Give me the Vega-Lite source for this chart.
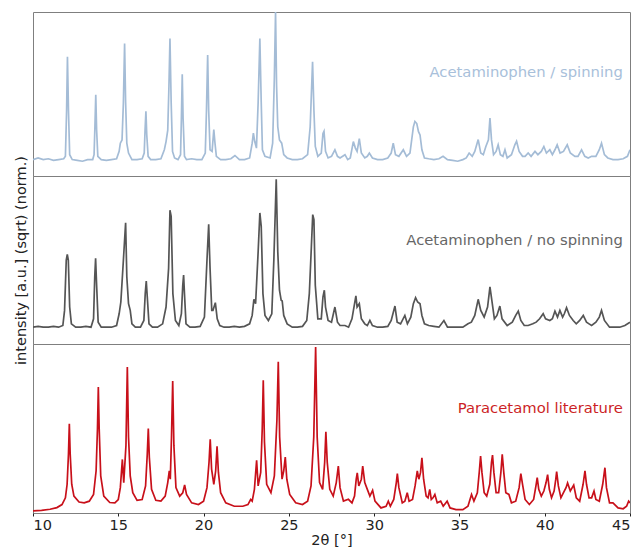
{
  "$schema": "https://vega.github.io/schema/vega-lite/v6.json",
  "padding": {"left": 12, "top": 11, "right": 7, "bottom": 0},
  "spacing": 0,
  "bounds": "flush",
  "config": {
    "font": "DejaVu Sans",
    "view": {"stroke": "#7f7f7f", "strokeWidth": 1}
  },
  "datasets": {
    "spin": [
      {"x":10.0,"y":0.10},{"x":10.3,"y":0.11},{"x":10.6,"y":0.10},{"x":10.9,"y":0.105},{"x":11.2,"y":0.095},{"x":11.5,"y":0.10},{"x":11.8,"y":0.105},{"x":11.9,"y":0.12},{"x":11.97,"y":0.40},{"x":12.02,"y":0.727},{"x":12.08,"y":0.40},{"x":12.15,"y":0.13},{"x":12.3,"y":0.10},{"x":12.6,"y":0.095},{"x":12.9,"y":0.09},{"x":13.2,"y":0.10},{"x":13.5,"y":0.10},{"x":13.58,"y":0.13},{"x":13.63,"y":0.30},{"x":13.68,"y":0.495},{"x":13.73,"y":0.28},{"x":13.8,"y":0.12},{"x":14.0,"y":0.10},{"x":14.3,"y":0.095},{"x":14.6,"y":0.10},{"x":14.9,"y":0.105},{"x":15.05,"y":0.15},{"x":15.12,"y":0.20},{"x":15.22,"y":0.22},{"x":15.3,"y":0.45},{"x":15.37,"y":0.808},{"x":15.43,"y":0.45},{"x":15.5,"y":0.20},{"x":15.6,"y":0.14},{"x":15.8,"y":0.10},{"x":16.1,"y":0.10},{"x":16.4,"y":0.105},{"x":16.52,"y":0.14},{"x":16.57,"y":0.28},{"x":16.62,"y":0.394},{"x":16.67,"y":0.25},{"x":16.75,"y":0.12},{"x":16.9,"y":0.10},{"x":17.2,"y":0.10},{"x":17.5,"y":0.105},{"x":17.7,"y":0.16},{"x":17.8,"y":0.21},{"x":17.9,"y":0.28},{"x":17.97,"y":0.55},{"x":18.03,"y":0.838},{"x":18.1,"y":0.45},{"x":18.18,"y":0.15},{"x":18.3,"y":0.11},{"x":18.5,"y":0.10},{"x":18.65,"y":0.13},{"x":18.7,"y":0.35},{"x":18.75,"y":0.62},{"x":18.8,"y":0.35},{"x":18.88,"y":0.12},{"x":19.0,"y":0.10},{"x":19.3,"y":0.105},{"x":19.6,"y":0.10},{"x":19.9,"y":0.10},{"x":20.1,"y":0.14},{"x":20.17,"y":0.40},{"x":20.24,"y":0.737},{"x":20.3,"y":0.40},{"x":20.38,"y":0.16},{"x":20.5,"y":0.15},{"x":20.6,"y":0.283},{"x":20.67,"y":0.20},{"x":20.75,"y":0.12},{"x":21.0,"y":0.10},{"x":21.3,"y":0.10},{"x":21.6,"y":0.105},{"x":21.84,"y":0.125},{"x":22.1,"y":0.10},{"x":22.4,"y":0.10},{"x":22.7,"y":0.11},{"x":22.85,"y":0.20},{"x":22.92,"y":0.262},{"x":23.0,"y":0.21},{"x":23.1,"y":0.17},{"x":23.2,"y":0.45},{"x":23.3,"y":0.838},{"x":23.38,"y":0.45},{"x":23.45,"y":0.16},{"x":23.6,"y":0.12},{"x":23.9,"y":0.11},{"x":24.05,"y":0.20},{"x":24.15,"y":0.60},{"x":24.22,"y":1.0},{"x":24.28,"y":0.55},{"x":24.35,"y":0.30},{"x":24.45,"y":0.22},{"x":24.58,"y":0.20},{"x":24.7,"y":0.13},{"x":24.9,"y":0.11},{"x":25.2,"y":0.10},{"x":25.5,"y":0.10},{"x":25.8,"y":0.105},{"x":26.1,"y":0.13},{"x":26.25,"y":0.30},{"x":26.39,"y":0.697},{"x":26.47,"y":0.40},{"x":26.55,"y":0.18},{"x":26.7,"y":0.12},{"x":26.9,"y":0.14},{"x":27.0,"y":0.26},{"x":27.06,"y":0.273},{"x":27.15,"y":0.15},{"x":27.3,"y":0.11},{"x":27.5,"y":0.12},{"x":27.7,"y":0.16},{"x":27.85,"y":0.12},{"x":28.0,"y":0.11},{"x":28.29,"y":0.13},{"x":28.45,"y":0.10},{"x":28.6,"y":0.11},{"x":28.78,"y":0.21},{"x":28.9,"y":0.17},{"x":29.0,"y":0.15},{"x":29.13,"y":0.228},{"x":29.25,"y":0.14},{"x":29.45,"y":0.11},{"x":29.6,"y":0.12},{"x":29.72,"y":0.14},{"x":29.9,"y":0.11},{"x":30.2,"y":0.10},{"x":30.5,"y":0.10},{"x":30.8,"y":0.11},{"x":31.0,"y":0.14},{"x":31.12,"y":0.20},{"x":31.25,"y":0.13},{"x":31.45,"y":0.12},{"x":31.71,"y":0.16},{"x":31.9,"y":0.12},{"x":32.1,"y":0.14},{"x":32.3,"y":0.30},{"x":32.39,"y":0.333},{"x":32.5,"y":0.32},{"x":32.6,"y":0.27},{"x":32.69,"y":0.25},{"x":32.8,"y":0.16},{"x":32.95,"y":0.11},{"x":33.2,"y":0.105},{"x":33.5,"y":0.10},{"x":33.8,"y":0.105},{"x":34.04,"y":0.12},{"x":34.3,"y":0.10},{"x":34.6,"y":0.095},{"x":34.9,"y":0.09},{"x":35.2,"y":0.10},{"x":35.4,"y":0.11},{"x":35.57,"y":0.14},{"x":35.75,"y":0.12},{"x":35.9,"y":0.15},{"x":36.1,"y":0.222},{"x":36.25,"y":0.14},{"x":36.4,"y":0.13},{"x":36.55,"y":0.18},{"x":36.7,"y":0.22},{"x":36.79,"y":0.353},{"x":36.88,"y":0.22},{"x":37.0,"y":0.13},{"x":37.15,"y":0.15},{"x":37.27,"y":0.19},{"x":37.4,"y":0.13},{"x":37.55,"y":0.12},{"x":37.67,"y":0.16},{"x":37.8,"y":0.11},{"x":38.05,"y":0.13},{"x":38.25,"y":0.19},{"x":38.35,"y":0.212},{"x":38.5,"y":0.15},{"x":38.7,"y":0.12},{"x":38.85,"y":0.12},{"x":39.03,"y":0.14},{"x":39.2,"y":0.12},{"x":39.43,"y":0.15},{"x":39.6,"y":0.13},{"x":39.8,"y":0.15},{"x":39.95,"y":0.18},{"x":40.1,"y":0.14},{"x":40.3,"y":0.16},{"x":40.45,"y":0.13},{"x":40.6,"y":0.16},{"x":40.73,"y":0.19},{"x":40.9,"y":0.14},{"x":41.1,"y":0.15},{"x":41.32,"y":0.19},{"x":41.5,"y":0.14},{"x":41.77,"y":0.12},{"x":41.95,"y":0.12},{"x":42.16,"y":0.16},{"x":42.35,"y":0.12},{"x":42.55,"y":0.11},{"x":42.75,"y":0.12},{"x":43.0,"y":0.12},{"x":43.2,"y":0.16},{"x":43.33,"y":0.20},{"x":43.5,"y":0.13},{"x":43.7,"y":0.11},{"x":44.0,"y":0.10},{"x":44.3,"y":0.10},{"x":44.6,"y":0.105},{"x":44.85,"y":0.12},{"x":45.0,"y":0.16}
    ],
    "nospin": [
      {"x":10.0,"y":0.10},{"x":10.3,"y":0.105},{"x":10.6,"y":0.10},{"x":10.9,"y":0.10},{"x":11.2,"y":0.105},{"x":11.5,"y":0.10},{"x":11.75,"y":0.11},{"x":11.85,"y":0.20},{"x":11.95,"y":0.50},{"x":12.01,"y":0.534},{"x":12.07,"y":0.50},{"x":12.15,"y":0.22},{"x":12.25,"y":0.12},{"x":12.5,"y":0.10},{"x":12.8,"y":0.10},{"x":13.1,"y":0.105},{"x":13.4,"y":0.10},{"x":13.55,"y":0.15},{"x":13.62,"y":0.40},{"x":13.67,"y":0.51},{"x":13.73,"y":0.35},{"x":13.82,"y":0.13},{"x":14.0,"y":0.10},{"x":14.3,"y":0.10},{"x":14.6,"y":0.10},{"x":14.9,"y":0.11},{"x":15.05,"y":0.18},{"x":15.15,"y":0.25},{"x":15.3,"y":0.50},{"x":15.43,"y":0.722},{"x":15.5,"y":0.40},{"x":15.6,"y":0.24},{"x":15.7,"y":0.20},{"x":15.8,"y":0.12},{"x":16.0,"y":0.10},{"x":16.3,"y":0.10},{"x":16.5,"y":0.14},{"x":16.58,"y":0.30},{"x":16.64,"y":0.375},{"x":16.7,"y":0.28},{"x":16.8,"y":0.12},{"x":17.0,"y":0.10},{"x":17.3,"y":0.10},{"x":17.6,"y":0.12},{"x":17.8,"y":0.22},{"x":17.95,"y":0.45},{"x":18.03,"y":0.796},{"x":18.1,"y":0.76},{"x":18.2,"y":0.30},{"x":18.35,"y":0.14},{"x":18.55,"y":0.11},{"x":18.7,"y":0.18},{"x":18.78,"y":0.35},{"x":18.83,"y":0.41},{"x":18.88,"y":0.30},{"x":18.97,"y":0.12},{"x":19.2,"y":0.10},{"x":19.5,"y":0.10},{"x":19.8,"y":0.105},{"x":20.05,"y":0.16},{"x":20.2,"y":0.50},{"x":20.3,"y":0.712},{"x":20.38,"y":0.45},{"x":20.48,"y":0.20},{"x":20.55,"y":0.20},{"x":20.69,"y":0.246},{"x":20.8,"y":0.15},{"x":20.95,"y":0.11},{"x":21.2,"y":0.10},{"x":21.5,"y":0.10},{"x":21.8,"y":0.105},{"x":22.1,"y":0.10},{"x":22.4,"y":0.105},{"x":22.7,"y":0.12},{"x":22.85,"y":0.17},{"x":22.95,"y":0.266},{"x":23.05,"y":0.24},{"x":23.2,"y":0.55},{"x":23.3,"y":0.78},{"x":23.38,"y":0.70},{"x":23.48,"y":0.30},{"x":23.6,"y":0.17},{"x":23.8,"y":0.14},{"x":24.0,"y":0.18},{"x":24.12,"y":0.50},{"x":24.26,"y":0.98},{"x":24.35,"y":0.55},{"x":24.45,"y":0.32},{"x":24.55,"y":0.26},{"x":24.61,"y":0.256},{"x":24.7,"y":0.17},{"x":24.9,"y":0.12},{"x":25.2,"y":0.10},{"x":25.5,"y":0.10},{"x":25.8,"y":0.105},{"x":26.05,"y":0.14},{"x":26.2,"y":0.30},{"x":26.32,"y":0.58},{"x":26.4,"y":0.77},{"x":26.47,"y":0.74},{"x":26.55,"y":0.35},{"x":26.7,"y":0.15},{"x":26.9,"y":0.15},{"x":27.0,"y":0.28},{"x":27.08,"y":0.32},{"x":27.15,"y":0.22},{"x":27.3,"y":0.14},{"x":27.5,"y":0.13},{"x":27.7,"y":0.22},{"x":27.85,"y":0.13},{"x":28.0,"y":0.11},{"x":28.29,"y":0.11},{"x":28.5,"y":0.10},{"x":28.7,"y":0.15},{"x":28.93,"y":0.286},{"x":29.0,"y":0.22},{"x":29.13,"y":0.24},{"x":29.25,"y":0.15},{"x":29.45,"y":0.12},{"x":29.6,"y":0.11},{"x":29.75,"y":0.14},{"x":29.9,"y":0.11},{"x":30.2,"y":0.10},{"x":30.5,"y":0.10},{"x":30.8,"y":0.105},{"x":31.0,"y":0.14},{"x":31.22,"y":0.226},{"x":31.35,"y":0.13},{"x":31.55,"y":0.12},{"x":31.8,"y":0.17},{"x":31.95,"y":0.12},{"x":32.15,"y":0.16},{"x":32.3,"y":0.24},{"x":32.43,"y":0.276},{"x":32.55,"y":0.25},{"x":32.69,"y":0.24},{"x":32.8,"y":0.17},{"x":32.95,"y":0.12},{"x":33.2,"y":0.11},{"x":33.5,"y":0.105},{"x":33.8,"y":0.10},{"x":34.09,"y":0.14},{"x":34.3,"y":0.10},{"x":34.6,"y":0.10},{"x":34.9,"y":0.10},{"x":35.2,"y":0.10},{"x":35.5,"y":0.12},{"x":35.7,"y":0.13},{"x":35.9,"y":0.17},{"x":36.1,"y":0.266},{"x":36.25,"y":0.20},{"x":36.45,"y":0.16},{"x":36.65,"y":0.22},{"x":36.79,"y":0.34},{"x":36.9,"y":0.26},{"x":37.05,"y":0.15},{"x":37.2,"y":0.17},{"x":37.37,"y":0.226},{"x":37.5,"y":0.15},{"x":37.8,"y":0.11},{"x":38.1,"y":0.13},{"x":38.3,"y":0.17},{"x":38.45,"y":0.196},{"x":38.6,"y":0.14},{"x":38.8,"y":0.11},{"x":39.03,"y":0.11},{"x":39.3,"y":0.12},{"x":39.5,"y":0.13},{"x":39.7,"y":0.15},{"x":39.91,"y":0.18},{"x":40.05,"y":0.15},{"x":40.3,"y":0.14},{"x":40.45,"y":0.15},{"x":40.6,"y":0.196},{"x":40.75,"y":0.16},{"x":40.89,"y":0.20},{"x":41.05,"y":0.16},{"x":41.15,"y":0.18},{"x":41.28,"y":0.216},{"x":41.45,"y":0.17},{"x":41.67,"y":0.14},{"x":41.85,"y":0.12},{"x":42.05,"y":0.14},{"x":42.26,"y":0.17},{"x":42.45,"y":0.13},{"x":42.6,"y":0.12},{"x":42.75,"y":0.11},{"x":43.0,"y":0.13},{"x":43.2,"y":0.16},{"x":43.33,"y":0.20},{"x":43.5,"y":0.14},{"x":43.8,"y":0.10},{"x":44.1,"y":0.10},{"x":44.4,"y":0.10},{"x":44.7,"y":0.11},{"x":45.0,"y":0.13}
    ],
    "lit": [
      {"x":10.0,"y":0.012},{"x":10.5,"y":0.016},{"x":11.0,"y":0.022},{"x":11.4,"y":0.032},{"x":11.7,"y":0.05},{"x":11.9,"y":0.09},{"x":12.0,"y":0.17},{"x":12.08,"y":0.35},{"x":12.13,"y":0.528},{"x":12.18,"y":0.35},{"x":12.27,"y":0.17},{"x":12.4,"y":0.10},{"x":12.7,"y":0.065},{"x":13.0,"y":0.06},{"x":13.3,"y":0.07},{"x":13.55,"y":0.11},{"x":13.7,"y":0.25},{"x":13.78,"y":0.50},{"x":13.83,"y":0.746},{"x":13.88,"y":0.50},{"x":13.97,"y":0.22},{"x":14.15,"y":0.10},{"x":14.5,"y":0.062},{"x":14.8,"y":0.06},{"x":15.0,"y":0.08},{"x":15.12,"y":0.15},{"x":15.24,"y":0.317},{"x":15.32,"y":0.18},{"x":15.45,"y":0.40},{"x":15.53,"y":0.864},{"x":15.6,"y":0.45},{"x":15.7,"y":0.22},{"x":15.85,"y":0.12},{"x":16.1,"y":0.075},{"x":16.4,"y":0.08},{"x":16.6,"y":0.16},{"x":16.7,"y":0.35},{"x":16.76,"y":0.50},{"x":16.82,"y":0.33},{"x":16.95,"y":0.14},{"x":17.2,"y":0.075},{"x":17.5,"y":0.07},{"x":17.75,"y":0.10},{"x":17.9,"y":0.18},{"x":17.99,"y":0.249},{"x":18.05,"y":0.20},{"x":18.12,"y":0.45},{"x":18.19,"y":0.781},{"x":18.26,"y":0.40},{"x":18.38,"y":0.15},{"x":18.6,"y":0.10},{"x":18.78,"y":0.12},{"x":18.89,"y":0.166},{"x":19.0,"y":0.11},{"x":19.3,"y":0.06},{"x":19.7,"y":0.05},{"x":20.0,"y":0.07},{"x":20.2,"y":0.15},{"x":20.32,"y":0.30},{"x":20.39,"y":0.436},{"x":20.47,"y":0.26},{"x":20.6,"y":0.17},{"x":20.71,"y":0.25},{"x":20.79,"y":0.395},{"x":20.87,"y":0.24},{"x":21.0,"y":0.12},{"x":21.3,"y":0.06},{"x":21.8,"y":0.04},{"x":22.3,"y":0.04},{"x":22.6,"y":0.05},{"x":22.76,"y":0.08},{"x":22.85,"y":0.07},{"x":22.98,"y":0.14},{"x":23.11,"y":0.312},{"x":23.2,"y":0.16},{"x":23.35,"y":0.24},{"x":23.44,"y":0.50},{"x":23.5,"y":0.785},{"x":23.57,"y":0.42},{"x":23.7,"y":0.17},{"x":23.95,"y":0.12},{"x":24.15,"y":0.22},{"x":24.3,"y":0.55},{"x":24.38,"y":0.895},{"x":24.46,"y":0.45},{"x":24.6,"y":0.20},{"x":24.7,"y":0.25},{"x":24.79,"y":0.331},{"x":24.88,"y":0.20},{"x":25.05,"y":0.11},{"x":25.4,"y":0.06},{"x":25.8,"y":0.05},{"x":26.1,"y":0.07},{"x":26.3,"y":0.16},{"x":26.46,"y":0.45},{"x":26.57,"y":0.982},{"x":26.66,"y":0.45},{"x":26.8,"y":0.18},{"x":26.98,"y":0.14},{"x":27.1,"y":0.30},{"x":27.17,"y":0.48},{"x":27.25,"y":0.30},{"x":27.4,"y":0.14},{"x":27.6,"y":0.10},{"x":27.78,"y":0.18},{"x":27.9,"y":0.278},{"x":28.0,"y":0.15},{"x":28.2,"y":0.07},{"x":28.49,"y":0.081},{"x":28.7,"y":0.06},{"x":28.85,"y":0.10},{"x":28.95,"y":0.20},{"x":29.01,"y":0.238},{"x":29.1,"y":0.16},{"x":29.25,"y":0.20},{"x":29.33,"y":0.278},{"x":29.45,"y":0.18},{"x":29.6,"y":0.14},{"x":29.75,"y":0.10},{"x":29.91,"y":0.134},{"x":30.05,"y":0.07},{"x":30.4,"y":0.03},{"x":30.7,"y":0.04},{"x":30.83,"y":0.07},{"x":30.95,"y":0.04},{"x":31.15,"y":0.08},{"x":31.3,"y":0.18},{"x":31.36,"y":0.233},{"x":31.45,"y":0.15},{"x":31.65,"y":0.06},{"x":31.8,"y":0.07},{"x":31.94,"y":0.12},{"x":32.05,"y":0.07},{"x":32.25,"y":0.08},{"x":32.4,"y":0.16},{"x":32.53,"y":0.249},{"x":32.62,"y":0.20},{"x":32.72,"y":0.24},{"x":32.8,"y":0.327},{"x":32.9,"y":0.20},{"x":33.05,"y":0.10},{"x":33.16,"y":0.09},{"x":33.26,"y":0.14},{"x":33.35,"y":0.08},{"x":33.45,"y":0.09},{"x":33.56,"y":0.11},{"x":33.7,"y":0.06},{"x":33.9,"y":0.07},{"x":34.05,"y":0.04},{"x":34.28,"y":0.07},{"x":34.45,"y":0.03},{"x":34.8,"y":0.02},{"x":35.2,"y":0.02},{"x":35.5,"y":0.04},{"x":35.71,"y":0.11},{"x":35.85,"y":0.07},{"x":36.05,"y":0.12},{"x":36.17,"y":0.25},{"x":36.24,"y":0.337},{"x":36.32,"y":0.24},{"x":36.45,"y":0.12},{"x":36.6,"y":0.10},{"x":36.78,"y":0.17},{"x":36.88,"y":0.30},{"x":36.94,"y":0.343},{"x":37.02,"y":0.24},{"x":37.15,"y":0.12},{"x":37.3,"y":0.12},{"x":37.43,"y":0.24},{"x":37.51,"y":0.347},{"x":37.6,"y":0.24},{"x":37.72,"y":0.12},{"x":37.9,"y":0.11},{"x":38.05,"y":0.06},{"x":38.3,"y":0.07},{"x":38.5,"y":0.15},{"x":38.6,"y":0.233},{"x":38.7,"y":0.17},{"x":38.85,"y":0.08},{"x":39.1,"y":0.05},{"x":39.35,"y":0.08},{"x":39.5,"y":0.17},{"x":39.56,"y":0.21},{"x":39.65,"y":0.14},{"x":39.8,"y":0.10},{"x":39.95,"y":0.13},{"x":40.08,"y":0.18},{"x":40.17,"y":0.227},{"x":40.27,"y":0.14},{"x":40.4,"y":0.09},{"x":40.55,"y":0.13},{"x":40.65,"y":0.20},{"x":40.7,"y":0.245},{"x":40.8,"y":0.16},{"x":40.95,"y":0.09},{"x":41.1,"y":0.12},{"x":41.25,"y":0.15},{"x":41.34,"y":0.178},{"x":41.5,"y":0.13},{"x":41.7,"y":0.165},{"x":41.85,"y":0.09},{"x":42.05,"y":0.07},{"x":42.25,"y":0.17},{"x":42.36,"y":0.249},{"x":42.45,"y":0.17},{"x":42.6,"y":0.09},{"x":42.75,"y":0.09},{"x":42.89,"y":0.13},{"x":43.0,"y":0.08},{"x":43.2,"y":0.07},{"x":43.4,"y":0.17},{"x":43.53,"y":0.268},{"x":43.62,"y":0.15},{"x":43.8,"y":0.06},{"x":44.0,"y":0.06},{"x":44.3,"y":0.03},{"x":44.6,"y":0.025},{"x":44.8,"y":0.04},{"x":44.92,"y":0.07},{"x":45.0,"y":0.06}
    ],
    "labels": [
      {"panel":"spin","x":44.58,"y":0.626,"label":"Acetaminophen / spinning"},
      {"panel":"nospin","x":44.58,"y":0.613,"label":"Acetaminophen / no spinning"},
      {"panel":"lit","x":44.58,"y":0.615,"label":"Paracetamol literature"}
    ]
  },
  "vconcat": [
    {
      "width": 597, "height": 164,
      "layer": [
        {
          "data": {"name": "spin"},
          "mark": {"type": "line", "color": "#a4bcd6", "strokeWidth": 1.7, "clip": true},
          "encoding": {
            "x": {"field": "x", "type": "quantitative", "scale": {"domain": [10, 45], "nice": false, "zero": false}, "axis": null},
            "y": {"field": "y", "type": "quantitative", "scale": {"domain": [0, 1], "nice": false}, "axis": null}
          }
        },
        {
          "data": {"name": "labels"},
          "transform": [{"filter": "datum.panel === 'spin'"}],
          "mark": {"type": "text", "align": "right", "baseline": "middle", "fontSize": 14.8, "color": "#a8c0da"},
          "encoding": {
            "x": {"field": "x", "type": "quantitative"},
            "y": {"field": "y", "type": "quantitative"},
            "text": {"field": "label"}
          }
        }
      ]
    },
    {
      "width": 597, "height": 168,
      "layer": [
        {
          "data": {"name": "nospin"},
          "mark": {"type": "line", "color": "#555555", "strokeWidth": 1.7, "clip": true},
          "encoding": {
            "x": {"field": "x", "type": "quantitative", "scale": {"domain": [10, 45], "nice": false, "zero": false}, "axis": null},
            "y": {"field": "y", "type": "quantitative", "scale": {"domain": [0, 1], "nice": false},
              "axis": {"title": "intensity [a.u.] (sqrt) (norm.)", "labels": false, "ticks": false, "domain": false, "grid": false, "titleFontSize": 14.5, "titleFontWeight": "normal", "titleColor": "#222222", "titlePadding": 5}}
          }
        },
        {
          "data": {"name": "labels"},
          "transform": [{"filter": "datum.panel === 'nospin'"}],
          "mark": {"type": "text", "align": "right", "baseline": "middle", "fontSize": 14.8, "color": "#666666"},
          "encoding": {
            "x": {"field": "x", "type": "quantitative"},
            "y": {"field": "y", "type": "quantitative"},
            "text": {"field": "label"}
          }
        }
      ]
    },
    {
      "width": 597, "height": 169,
      "layer": [
        {
          "data": {"name": "lit"},
          "mark": {"type": "line", "color": "#c8101a", "strokeWidth": 1.7, "clip": true},
          "encoding": {
            "x": {"field": "x", "type": "quantitative", "scale": {"domain": [10, 45], "nice": false, "zero": false},
              "axis": {"title": "2θ [°]", "values": [10, 15, 20, 25, 30, 35, 40, 45], "grid": false, "domain": false, "tickSize": 3, "tickColor": "#222222", "labelFontSize": 14.5, "labelColor": "#222222", "labelPadding": 2, "titleFontSize": 14.5, "titleFontWeight": "normal", "titleColor": "#222222", "titlePadding": 2}},
            "y": {"field": "y", "type": "quantitative", "scale": {"domain": [0, 1], "nice": false}, "axis": null}
          }
        },
        {
          "data": {"name": "labels"},
          "transform": [{"filter": "datum.panel === 'lit'"}],
          "mark": {"type": "text", "align": "right", "baseline": "middle", "fontSize": 14.8, "color": "#cc1f26"},
          "encoding": {
            "x": {"field": "x", "type": "quantitative"},
            "y": {"field": "y", "type": "quantitative"},
            "text": {"field": "label"}
          }
        }
      ]
    }
  ]
}
